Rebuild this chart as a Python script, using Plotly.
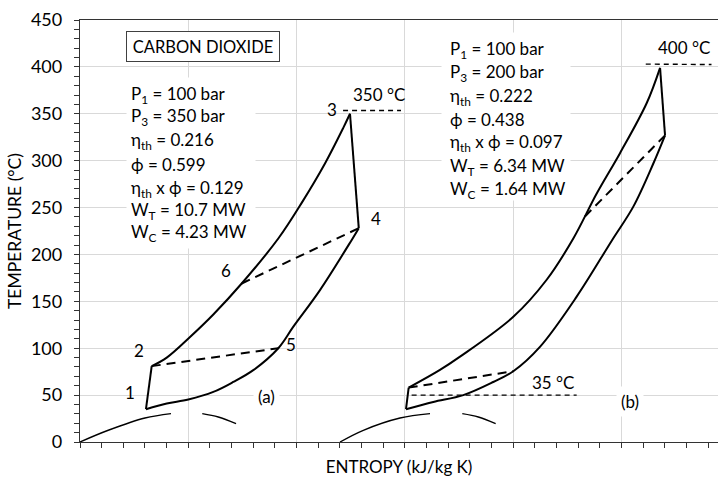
import plotly.graph_objects as go

# ---------------- data (entropy in grid units, temperature in °C) ----------------
# Cycle (a): P1 = 100 bar, P3 = 350 bar
a_hp_s = [0.662, 0.801, 1.016, 1.231, 1.493, 1.831, 2.047, 2.262, 2.431, 2.493]
a_hp_T = [80.9, 90, 112, 136, 169, 217, 255, 297, 335, 350]
a_turb_s = [2.493, 2.574]
a_turb_T = [350, 228]
a_lp_s = [2.574, 2.509, 2.216, 1.970, 1.831, 1.600, 1.416, 1.231, 1.000, 0.801, 0.609]
a_lp_T = [228, 215.5, 162, 123, 100, 76.6, 64, 53.4, 45.3, 41, 35]
a_comp_s = [0.609, 0.662]
a_comp_T = [35, 80.9]
a_regen_cold_s = [0.662, 1.831]
a_regen_cold_T = [80.9, 100]
a_regen_hot_s = [1.493, 2.574]
a_regen_hot_T = [169, 228]
a_tmax_s = [2.429, 2.964]
a_tmax_T = [353.5, 353.5]

# Cycle (b): P1 = 100 bar, P3 = 200 bar
b_hp_s = [3.035, 3.320, 3.509, 4.001, 4.309, 4.555, 4.771, 4.986, 5.233, 5.356]
b_hp_T = [58, 76.6, 91, 133.5, 173, 217, 265, 308, 361.5, 399]
b_turb_s = [5.356, 5.402]
b_turb_T = [399, 327]
b_lp_s = [5.402, 5.294, 5.109, 4.917, 4.586, 4.247, 4.001, 3.816, 3.539, 3.262, 3.010]
b_lp_T = [327, 297, 251, 216, 155, 101.5, 75.5, 64, 50, 42.7, 35]
b_comp_s = [3.010, 3.035]
b_comp_T = [35, 58]
b_regen_cold_s = [3.035, 4.001]
b_regen_cold_T = [58, 75.5]
b_regen_hot_s = [5.402, 4.647]
b_regen_hot_T = [327, 238.7]
b_tmin_s = [3.062, 4.586]
b_tmin_T = [50, 50]
b_tmax_s = [5.224, 5.831]
b_tmax_T = [403, 402.5]

# Saturation dome pieces
dome_a_left_s = [0.0, 0.261, 0.600, 0.840]
dome_a_left_T = [0, 12.5, 25.6, 30.3]
dome_a_right_s = [1.129, 1.277, 1.441]
dome_a_right_T = [30.3, 26.7, 19.6]
dome_b_left_s = [2.401, 2.616, 2.955, 3.232]
dome_b_left_T = [0, 12.5, 25.6, 30.3]
dome_b_right_s = [3.530, 3.678, 3.838]
dome_b_right_T = [30.3, 26.7, 19.6]

# Text
block_a = ["P<sub>1</sub> = 100 bar", "P<sub>3</sub> = 350 bar", "η<sub>th</sub> = 0.216",
           "ϕ = 0.599", "η<sub>th</sub> x ϕ = 0.129", "W<sub>T</sub> = 10.7 MW", "W<sub>C</sub> = 4.23 MW"]
block_b = ["P<sub>1</sub> = 100 bar", "P<sub>3</sub> = 200 bar", "η<sub>th</sub> = 0.222",
           "ϕ = 0.438", "η<sub>th</sub> x ϕ = 0.097", "W<sub>T</sub> = 6.34 MW", "W<sub>C</sub> = 1.64 MW"]
block_a_T = [370.4, 346.6, 320.5, 295.6, 269.7, 245.8, 222.6]
block_b_T = [418.5, 393.9, 368.3, 343.7, 319.1, 293.5, 268.9]
point_labels = ["1", "2", "3", "4", "5", "6"]
point_label_s = [0.462, 0.545, 2.330, 2.733, 1.945, 1.345]
point_label_T = [52.4, 98, 355, 238.7, 104.4, 183.4]
y_ticks = [0, 50, 100, 150, 200, 250, 300, 350, 400, 450]

FONT = "Lato"
FS = 17
TXT = dict(family=FONT, size=FS, color="black")
solid = dict(color="black", width=2)
dash_cyc = dict(color="black", width=2, dash="9px,6px")
dash_ref = dict(color="black", width=1.4, dash="5px,4px")

fig = go.Figure()

def add(s, T, line, shape="linear"):
    fig.add_trace(go.Scatter(x=s, y=T, mode="lines", line=dict(**line, shape=shape),
                             hoverinfo="skip", showlegend=False))

for s, T in [(dome_a_left_s, dome_a_left_T), (dome_a_right_s, dome_a_right_T),
             (dome_b_left_s, dome_b_left_T), (dome_b_right_s, dome_b_right_T)]:
    add(s, T, dict(color="black", width=1.4), "spline")

add(a_hp_s, a_hp_T, solid, "spline")
add(a_turb_s, a_turb_T, solid)
add(a_lp_s, a_lp_T, solid, "spline")
add(a_comp_s, a_comp_T, solid)
add(a_regen_cold_s, a_regen_cold_T, dash_cyc)
add(a_regen_hot_s, a_regen_hot_T, dash_cyc)
add(a_tmax_s, a_tmax_T, dash_ref)

add(b_hp_s, b_hp_T, solid, "spline")
add(b_turb_s, b_turb_T, solid)
add(b_lp_s, b_lp_T, solid, "spline")
add(b_comp_s, b_comp_T, solid)
add(b_regen_cold_s, b_regen_cold_T, dash_cyc)
add(b_regen_hot_s, b_regen_hot_T, dash_cyc)
add(b_tmin_s, b_tmin_T, dash_ref)
add(b_tmax_s, b_tmax_T, dash_ref)

ann = []
# white text-box backgrounds behind the two parameter blocks
ann.append(dict(x=1.025, y=297.8, text=" ", showarrow=False, width=128, height=170,
                bgcolor="white", borderpad=0, font=TXT))
ann.append(dict(x=3.934, y=347.4, text=" ", showarrow=False, width=128, height=167,
                bgcolor="white", borderpad=0, font=TXT))
for t, yy in zip(block_a, block_a_T):
    ann.append(dict(x=0.455, y=yy, text=t, showarrow=False, xanchor="left", yanchor="middle",
                    font=TXT))
for t, yy in zip(block_b, block_b_T):
    ann.append(dict(x=3.401, y=yy, text=t, showarrow=False, xanchor="left", yanchor="middle",
                    font=TXT))
for t, xx, yy in zip(point_labels, point_label_s, point_label_T):
    ann.append(dict(x=xx, y=yy, text=t, showarrow=False, font=TXT))
ann.append(dict(x=1.138, y=421.7, text="CARBON DIOXIDE", showarrow=False, width=152, height=29,
                bgcolor="white", bordercolor="#404040", borderwidth=1, borderpad=0,
                font=dict(family=FONT, size=16.5, color="black")))
ann.append(dict(x=2.761, y=370.4, text="350 °C", showarrow=False, font=TXT))
ann.append(dict(x=5.577, y=420.3, text="400 °C", showarrow=False, font=TXT))
ann.append(dict(x=4.368, y=63, text="35 °C", showarrow=False, font=TXT))
ann.append(dict(x=1.723, y=48.8, text="(a)", showarrow=False, font=TXT,
                bgcolor="white", borderpad=4))
ann.append(dict(x=5.078, y=43.5, text="(b)", showarrow=False, font=TXT,
                bgcolor="white", borderpad=4))

fig.update_layout(
    width=718, height=479,
    margin=dict(l=80, r=0, t=20, b=37),
    paper_bgcolor="white", plot_bgcolor="white",
    font=dict(family=FONT, size=FS, color="black"),
    annotations=ann,
    xaxis=dict(range=[0, 5.891], tick0=0, dtick=1, showticklabels=False,
               showgrid=True, gridcolor="#d9d9d9", gridwidth=1,
               showline=True, linecolor="#333333", linewidth=1.3, mirror=True,
               ticks="outside", ticklen=5, tickcolor="#333333",
               minor=dict(dtick=0.2, ticks="outside", ticklen=5, tickcolor="#333333", showgrid=False),
               zeroline=False,
               title=dict(text="ENTROPY (kJ/kg K)", font=dict(family=FONT, size=17, color="black"),
                          standoff=13)),
    yaxis=dict(range=[0, 450], tickmode="array", tickvals=y_ticks,
               tickfont=dict(family=FONT, size=18, color="black"),
               showgrid=True, gridcolor="#d9d9d9", gridwidth=1,
               showline=True, linecolor="#333333", linewidth=1.3,
               ticks="outside", ticklen=5, tickcolor="#333333",
               minor=dict(dtick=10, ticks="outside", ticklen=5, tickcolor="#333333", showgrid=False),
               zeroline=False, ticklabelstandoff=8,
               title=dict(text="TEMPERATURE (°C)", font=dict(family=FONT, size=17.5, color="black"),
                          standoff=4)),
)

fig.write_html("out.html")
